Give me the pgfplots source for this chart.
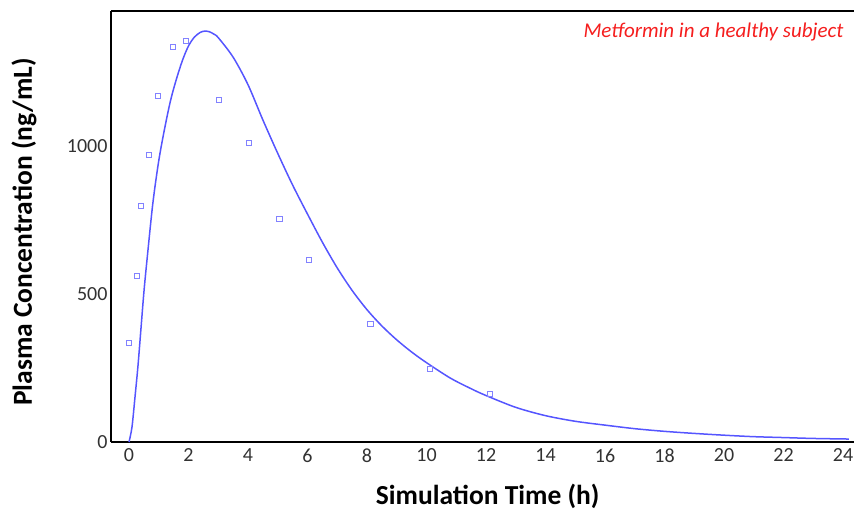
\documentclass[border=0pt]{standalone}
\usepackage{pgfplots}
\pgfplotsset{compat=1.18}
\usepackage{fontspec}
\setmainfont{Carlito}
\definecolor{curveblue}{RGB}{85,85,255}
\definecolor{markblue}{RGB}{130,130,255}
\definecolor{ticklab}{RGB}{50,50,50}
\definecolor{annot}{RGB}{245,30,30}
\begin{document}
\begin{tikzpicture}
\useasboundingbox (-111bp,-70bp) rectangle (743bp,442bp);
\begin{axis}[
  at={(0,0)}, anchor=south west,
  scale only axis, width=743bp, height=431bp,
  xmin=-0.605, xmax=24.37, ymin=0, ymax=1456,
  axis x line=box, axis y line=left,
  axis line style={-, line width=1.6bp, black},
  major tick length=0pt,
  xtick={0,2,...,24}, ytick={0,500,1000},
  /pgf/number format/assume math mode=true,
  /pgf/number format/1000 sep={},
  tick label style={font=\fontsize{20bp}{23bp}\selectfont, text=ticklab},
  xticklabel style={yshift=-3bp},
  xlabel={Simulation Time (h)},
  ylabel={Plasma Concentration (ng/mL)},
  label style={font=\bfseries\fontsize{27.5bp}{30bp}\selectfont},
  xlabel style={at={(axis description cs:0.507,-0.145)}, anchor=base},
  ylabel style={at={(axis description cs:-0.117,0.487)}, anchor=center},
  clip=false,
]
\addplot[color=curveblue, line width=1.5bp, smooth] coordinates {
(0,0) (0.1,50) (0.2,150) (0.3,255) (0.4,380) (0.5,505) (0.6,610) (0.8,805)
(1.0,950) (1.2,1060) (1.4,1155) (1.6,1228) (1.8,1290) (2.0,1338) (2.2,1368)
(2.4,1384) (2.55,1388) (2.7,1386) (2.85,1378) (3.0,1366) (3.5,1300) (4.0,1207)
(4.5,1088) (5.0,975) (5.5,868) (6.0,770) (6.5,675) (7.0,588) (7.5,512) (8.0,447)
(8.5,392) (9.0,345) (9.5,304) (10.0,268) (10.8,216) (11.5,180) (12.0,157)
(13.0,117) (14.0,89) (15.0,70) (16.0,57) (17.0,45) (18.0,36) (19.0,29)
(20.0,23) (21.0,18) (22.0,15) (23.0,12) (24.2,10)
};
\addplot[only marks, mark=square, mark size=2.8bp, color=markblue, mark options={line width=0.9bp}] coordinates {
(0,334) (0.27,561) (0.4,797) (0.67,970) (0.97,1169) (1.48,1334) (1.92,1355)
(3.03,1155) (4.03,1010) (5.05,753) (6.05,615) (8.12,399) (10.12,247) (12.13,162)
};
\node[anchor=base east, text=annot, font=\itshape\fontsize{21bp}{24bp}\selectfont] at (axis description cs:0.9906,0.9385) {Metformin in a healthy subject};
\end{axis}
\end{tikzpicture}
\end{document}
